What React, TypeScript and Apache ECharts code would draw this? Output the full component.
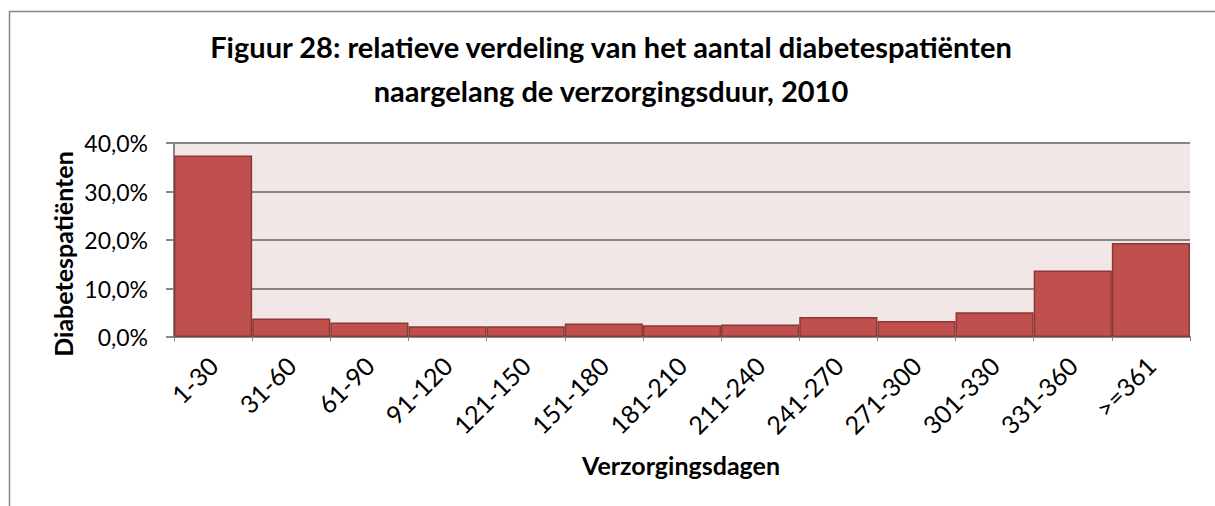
import React, { useEffect, useRef } from "react";
import * as echarts from "echarts";

const categories = ["1-30", "31-60", "61-90", "91-120", "121-150", "151-180", "181-210", "211-240", "241-270", "271-300", "301-330", "331-360", ">=361"];
const shares = [37.4, 3.8, 3.0, 2.2, 2.2, 2.8, 2.4, 2.6, 4.1, 3.3, 5.1, 13.7, 19.4];
const titleLines = ["Figuur 28: relatieve verdeling van het aantal diabetespatiënten", "naargelang de verzorgingsduur, 2010"];
const yAxisName = "Diabetespatiënten";
const xAxisName = "Verzorgingsdagen";

const FONT = "Lato, 'Open Sans', sans-serif";

export default function App() {
  const ref = useRef<HTMLDivElement>(null);
  useEffect(() => {
    if (!ref.current) return;
    const chart = echarts.init(ref.current, undefined, { renderer: "svg" });
    chart.setOption({
      animation: false,
      backgroundColor: "#ffffff",
      title: {
        text: titleLines.join("\n"),
        left: 606,
        top: 19,
        textAlign: "center",
        textStyle: { fontFamily: FONT, fontWeight: "bold", fontSize: 29, lineHeight: 44, color: "#000" },
      },
      graphic: [
        {
          type: "rect",
          shape: { x: 9.5, y: 11.5, width: 1400, height: 700 },
          style: { fill: "none", stroke: "#868686", lineWidth: 1.5 },
          silent: true,
        },
        {
          type: "text",
          x: 63,
          y: 254,
          rotation: Math.PI / 2,
          style: { text: yAxisName, fontFamily: FONT, fontWeight: "bold", fontSize: 25, fill: "#000", align: "center", verticalAlign: "middle" },
          silent: true,
        },
        {
          type: "text",
          x: 681,
          y: 465,
          style: { text: xAxisName, fontFamily: FONT, fontWeight: "bold", fontSize: 25, fill: "#000", align: "center", verticalAlign: "middle" },
          silent: true,
        },
      ],
      grid: { left: 174, right: 25, top: 143, bottom: 169, show: true, backgroundColor: "#F2E7E7", borderWidth: 0 },
      xAxis: {
        type: "category",
        data: categories,
        axisLine: { lineStyle: { color: "#868686", width: 2 } },
        axisTick: { show: true, length: 4, lineStyle: { color: "#868686" } },
        axisLabel: { rotate: 45, fontFamily: FONT, fontSize: 25, color: "#000", margin: 24, interval: 0 },
      },
      yAxis: {
        type: "value",
        min: 0,
        max: 40,
        interval: 10,
        axisLine: { show: true, lineStyle: { color: "#868686", width: 2 } },
        axisTick: { show: true, length: 8, inside: false, lineStyle: { color: "#868686", width: 2 } },
        splitLine: { show: true, lineStyle: { color: "#868686", width: 2 } },
        axisLabel: {
          fontFamily: FONT,
          fontSize: 23,
          color: "#000",
          margin: 26,
          formatter: (v: number) => v.toFixed(1).replace(".", ",") + "%",
        },
      },
      series: [
        {
          type: "bar",
          data: shares,
          barCategoryGap: "0%",
          itemStyle: { color: "#C0504D", borderColor: "#8C3836", borderWidth: 1.5 },
        },
      ],
    });
    return () => chart.dispose();
  }, []);
  return <div ref={ref} style={{ position: "absolute", left: 0, top: 0, width: 1215, height: 506 }} />;
}
